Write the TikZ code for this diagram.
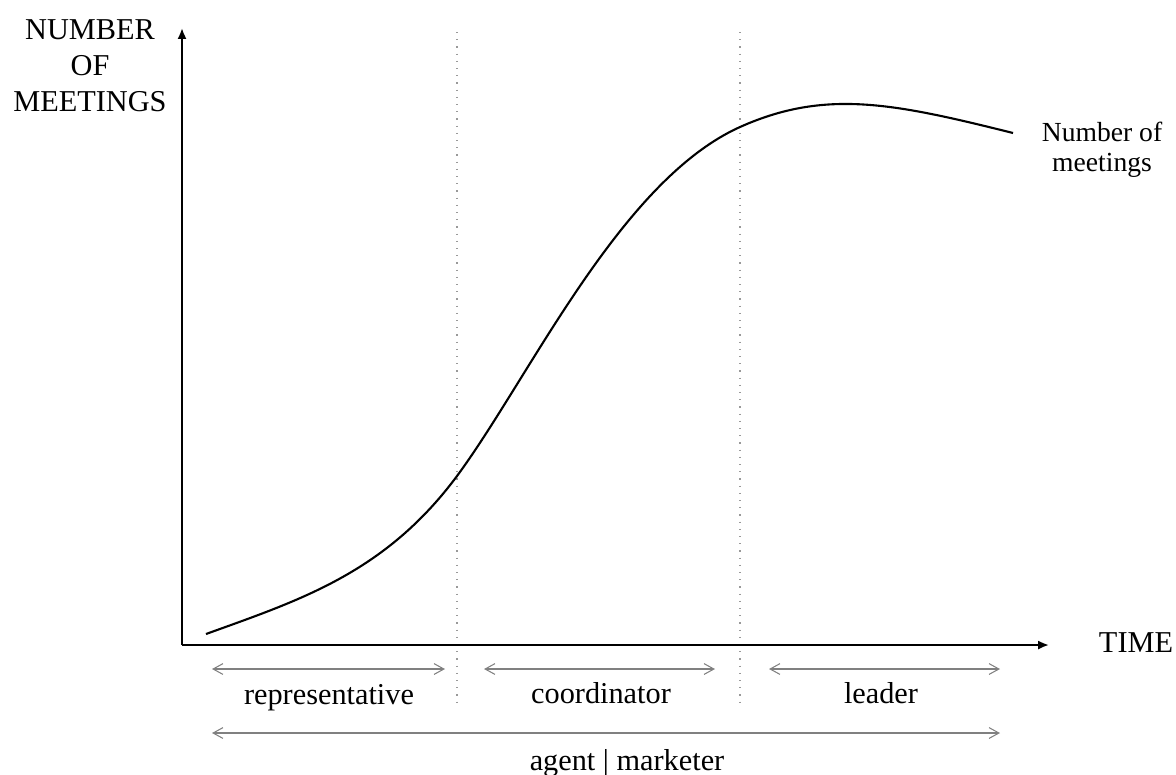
\documentclass[tikz,border=0pt]{standalone}
\usepackage{fontspec}
\setmainfont{Liberation Serif}
\usetikzlibrary{arrows.meta}
\begin{document}
\begin{tikzpicture}[x=0.3333pt,y=-0.3333pt,
    axis/.style={line width=0.7pt,-{Latex[length=3.6pt,width=3pt]}},
    span/.style={draw=gray,line width=0.35pt,{Straight Barb[length=3.3pt,width=3.6pt]}-{Straight Barb[length=3.3pt,width=3.6pt]}},
    divider/.style={draw=gray!80,line width=0.4pt,dotted}]
      \useasboundingbox (0,0) rectangle (1176,774);
      \fontsize{10.1pt}{12pt}\selectfont

      \coordinate (O) at (182,645);
      \coordinate (ytop) at (182,28);
      \coordinate (xend) at (1049,645);

      \coordinate (d1top) at (457,32);
      \coordinate (d1bot) at (457,705);
      \coordinate (d2top) at (740,32);
      \coordinate (d2bot) at (740,705);

      \coordinate (r1) at (212,669);
      \coordinate (r2) at (445,669);
      \coordinate (c1) at (484,669);
      \coordinate (c2) at (715,669);
      \coordinate (l1) at (769,669);
      \coordinate (l2) at (1000,669);
      \coordinate (a1) at (212,733);
      \coordinate (a2) at (1000,733);

      % points on the curve
      \coordinate (p0) at (206,634);
      \coordinate (p1) at (457,476);
      \coordinate (p2) at (740,127);
      \coordinate (p3) at (1013,133);

      \begin{scope}[every node/.style={align=center,inner sep=0pt}]
        \node (ylabel) at (90,66) {NUMBER\\OF\\MEETINGS};
        \node (xlabel) at (1136,643) {TIME};
        \node[font=\fontsize{9.2pt}{10pt}\selectfont] (curvelabel) at (1102,150) {Number of\\meetings};
      \end{scope}

      \begin{scope}[every node/.style={anchor=base,inner sep=0pt}]
        \node (rep) at (329,704) {representative};
        \node (coord) at (601,703) {coordinator};
        \node (lead) at (881,703) {leader};
        \node (agent) at (627,770) {agent | marketer};
      \end{scope}

      \draw[divider] (d1top) -- (d1bot);
      \draw[divider] (d2top) -- (d2bot);

      \draw[axis] (O) -- (ytop);
      \draw[axis] (O) -- (xend);

      \draw[line width=0.7pt] (p0) .. controls (300,600) and (385,573) .. (p1)
        .. controls (530,377) and (620,181) .. (p2)
        .. controls (825,89) and (893,103) .. (p3);

      \path (r1) edge[span] (r2);
      \path (c1) edge[span] (c2);
      \path (l1) edge[span] (l2);
      \path (a1) edge[span] (a2);

    \end{tikzpicture}
\end{document}
